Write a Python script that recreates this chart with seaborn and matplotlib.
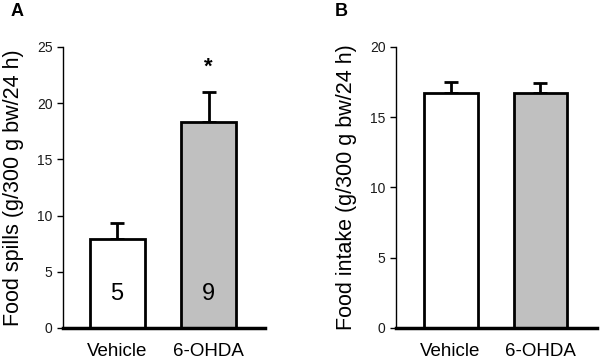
import matplotlib
matplotlib.use("Agg")
import matplotlib.pyplot as plt
import seaborn as sns
import pandas as pd

groups = ["Vehicle", "6-OHDA"]
spills_mean = [7.95, 18.35]
spills_sem = [1.35, 2.65]
intake_mean = [16.7, 16.7]
intake_sem = [0.8, 0.7]
n_labels = ["5", "9"]
colors = ["white", "#c0c0c0"]

sns.set_style("ticks")
plt.rcParams["font.family"] = ["Liberation Sans", "DejaVu Sans"]
plt.rcParams["text.color"] = "black"
plt.rcParams["axes.labelcolor"] = "black"
plt.rcParams["xtick.color"] = "black"
plt.rcParams["ytick.color"] = "black"

fig = plt.figure(figsize=(6, 3.59), dpi=100)
axA = fig.add_axes([0.105, 0.0864, 0.337, 0.783])
axB = fig.add_axes([0.66, 0.0864, 0.335, 0.783])


def panel(ax, means, sems, ymax, step, ylabel, xl):
    df = pd.DataFrame({"group": groups, "value": means})
    ax.errorbar(range(len(groups)), means, yerr=[[0] * len(sems), sems],
                fmt="none", ecolor="black", elinewidth=2, capsize=5,
                capthick=2, zorder=1)
    sns.barplot(data=df, x="group", y="value", hue="group", palette=colors,
                edgecolor="black", linewidth=2, width=0.6, ax=ax,
                legend=False, zorder=2)
    ax.set_ylim(0, ymax)
    ax.set_xlim(*xl)
    ax.set_yticks(range(0, ymax + 1, step))
    ax.set_xlabel("")
    ax.set_ylabel(ylabel, fontsize=15.5, labelpad=9)
    ax.tick_params(axis="y", labelsize=10, length=4, width=1,
                   direction="out", labelcolor="#1a1a1a")
    ax.tick_params(axis="x", labelsize=13.5, length=0, pad=11)
    sns.despine(ax=ax)
    ax.spines["bottom"].set_linewidth(2.5)
    ax.spines["bottom"].set_color("black")
    ax.spines["left"].set_linewidth(1)
    ax.spines["left"].set_color("black")


panel(axA, spills_mean, spills_sem, 25, 5, "Food spills (g/300 g bw/24 h)", (-0.59, 1.617))
panel(axB, intake_mean, intake_sem, 20, 5, "Food intake (g/300 g bw/24 h)", (-0.606, 1.628))

for i, t in enumerate(n_labels):
    axA.text(i, 3.0, t, ha="center", va="center", fontsize=17)
axA.text(1, spills_mean[1] + spills_sem[1] + 1.3, "*", ha="center", va="bottom",
         fontsize=16, fontweight="bold")

fig.text(0.018, 0.968, "A", fontsize=13, fontweight="bold", ha="left", va="center")
fig.text(0.558, 0.968, "B", fontsize=13, fontweight="bold", ha="left", va="center")

fig.savefig("out.png", dpi=100)
